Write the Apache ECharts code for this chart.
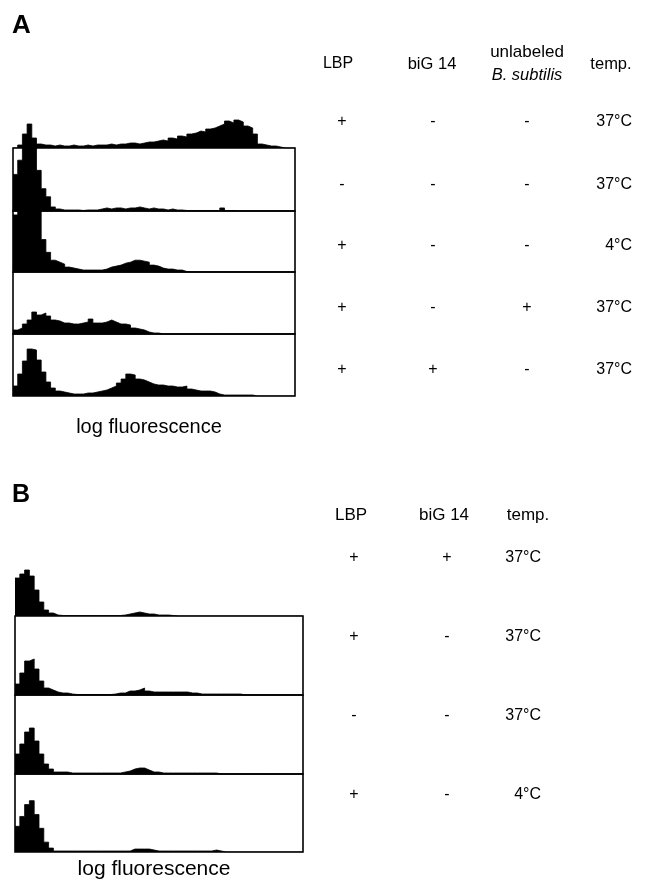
<!DOCTYPE html>
<html>
<head>
<meta charset="utf-8">
<script src="https://cdn.jsdelivr.net/npm/echarts@6/dist/echarts.min.js"></script>
<style>
html,body{margin:0;padding:0;background:#fff;}
#c{width:645px;height:879px;}
</style>
</head>
<body>
<div id="c"></div>
<script>
// ---------- DATA ----------
// Histogram counts (relative), 60 log-fluorescence bins per histogram
const histA1 = [0,3,14,24,10,4,3,3,2,3, 2,2,3,2,2,3,2,3,3,3, 4,3,4,4,5,5,4,5,6,6, 7,8,7,10,9,12,11,14,15,17, 16,19,20,22,24,27,25,28,26,22, 20,14,4,3,2,2,1,0,0,0];
const histA2 = [36,50,68,70,66,40,22,14,4,2, 1,1,1,1,0.5,1,1,1,2,3, 2,3,3,2,3,3,4,3,2,3, 2,2,1,2,1,1,0.5,0.5,0.5,0.5, 0.5,0.5,0.5,0.5,3,0.5,0.5,0,0,0, 0,0,0,0,0,0,0,0,0,0];
const histA3 = [58,66,68,68,66,62,33,20,12,10, 8,5,4,3,2,2,2,2,2,3, 5,6,7,9,10,12,12,11,10,7, 6,4,3,3,2,2,0.5,0,0,0, 0,0,0,0,0,0,0,0,0,0, 0,0,0,0,0,0,0,0,0,0];
const histA4 = [4,6,10,14,22,19,21,18,14,13, 11,11,10,10,11,12,15,11,11,12, 14,12,10,10,9,6,5,4,2,1, 1,0,0,0,0,0,0,0,0,0, 0,0,0,0,0,0,0,0,0,0, 0,0,0,0,0,0,0,0,0,0];
const histA5 = [10,22,35,47,46,36,24,14,8,5, 4,3,2,2,2,3,3,4,5,6, 8,10,13,17,22,21,17,16,14,12, 11,11,10,10,9,9,10,7,6,5, 5,5,4,2,1,1,1,1,1,1, 1,0,0,0,0,0,0,0,0,0];

const histB1 = [38,42,46,40,26,14,6,3,1,0.5, 0.5,0.5,0.5,0.5,0.5,0.5,0.5,0.5,0.5,0.5, 0.5,0.5,1,2,3,4,3,2,2,1, 1,1,0.5,0,0,0,0,0,0,0, 0,0,0,0,0,0,0,0,0,0, 0,0,0,0,0,0,0,0,0,0];
const histB2 = [11,22,34,36,26,14,7,5,3,2, 2,1,0.5,0.5,0.5,0.5,0.5,0.5,0.5,0.5, 1,2,2,4,4,5,7,4,3,3, 3,3,3,3,3,3,2,2,1,1, 1,1,1,1,1,1,1,0,0,0, 0,0,0,0,0,0,0,0,0,0];
const histB3 = [20,30,42,46,33,20,10,5,2,2, 2,1,1,1,1,1,1,1,1,1, 1,1,2,3,5,6,6,4,2,2, 1,1,1,1,1,1,1,1,1,1, 1,1,0,0,0,0,0,0,0,0, 0,0,0,0,0,0,0,0,0,0];
const histB4 = [26,36,48,52,38,24,10,4,1,1, 1,1,1,1,1,1,1,1,1,1, 1,1,1,1,3,3,3,3,2,1, 1,1,1,1,1,1,1,1,1,1, 1,2,1,0,0,0,0,0,0,0, 0,0,0,0,0,0,0,0,0,0];

// Condition table
const headersA = ['LBP','biG 14','unlabeled|B. subtilis','temp.'];
const condA_LBP  = ['+','-','+','+','+'];
const condA_biG  = ['-','-','-','-','+'];
const condA_unl  = ['-','-','-','+','-'];
const condA_temp = ['37°C','37°C','4°C','37°C','37°C'];

const headersB = ['LBP','biG 14','temp.'];
const condB_LBP  = ['+','+','-','+'];
const condB_biG  = ['+','-','-','-'];
const condB_temp = ['37°C','37°C','37°C','4°C'];

const xAxisTitle = 'log fluorescence';
const panelLabels = ['A','B'];

// ---------- LAYOUT ----------
const FONT = '"Liberation Sans", Arial, Helvetica, sans-serif';
const A = {left:13, width:282, rows:[[86,62],[148,63],[211,61],[272,62],[334,62]], yMax:62};
const B = {left:15, width:288, rows:[[537,79],[616,79],[695,79],[774,78]], yMax:79};

const grids=[], xAxes=[], yAxes=[], series=[];
function addHist(panel, idx, data){
  const [top,h] = panel.rows[idx];
  const gi = grids.length;
  // bin edges: n bins -> n+1 edges; step 'end' draws each bin as a flat top
  const edges = data.map((_,i)=>i).concat([data.length]);
  const vals = data.concat([0]);
  grids.push({left:panel.left, top:top, width:panel.width, height:h,
    show: idx>0, borderColor:'#000', borderWidth:1.6, backgroundColor:'transparent', containLabel:false});
  xAxes.push({type:'category', gridIndex:gi, data:edges, show:false, boundaryGap:false});
  yAxes.push({type:'value', gridIndex:gi, min:0, max:panel.yMax, show:false});
  series.push({type:'line', xAxisIndex:gi, yAxisIndex:gi, data:vals, step:'end', symbol:'none',
    lineStyle:{color:'#000', width:0.8}, areaStyle:{color:'#000', opacity:1},
    silent:true, animation:false, z:1});
}
[histA1,histA2,histA3,histA4,histA5].forEach((d,i)=>addHist(A,i,d));
[histB1,histB2,histB3,histB4].forEach((d,i)=>addHist(B,i,d));

const graphics=[];
function txt(x,y,s,opt){
  opt=opt||{};
  graphics.push({type:'text', x:x, y:y, silent:true, z:10, style:{text:s, fill:'#000',
    font:(opt.style||'normal')+' '+(opt.weight||'normal')+' '+(opt.size||16)+'px '+FONT,
    align:opt.align||'center', verticalAlign:'middle'}});
}
// panel labels
txt(12,26,panelLabels[0],{size:26,weight:'bold',align:'left'});
txt(12,495,panelLabels[1],{size:25,weight:'bold',align:'left'});
// axis titles
txt(149,427,xAxisTitle,{size:20});
txt(154,869,xAxisTitle,{size:21});

// Panel A table
const colA = [342,433,527,632];
txt(338,64,headersA[0],{size:16});
txt(432,64,headersA[1],{size:16.5});
const un = headersA[2].split('|');
txt(527,52,un[0],{size:17});
txt(527,75,un[1],{size:16.5,style:'italic'});
txt(611,64,headersA[3],{size:16.5});
A.rows.forEach((r,i)=>{
  const y = r[0]+r[1]-26;
  txt(colA[0],y,condA_LBP[i],{size:16});
  txt(colA[1],y,condA_biG[i],{size:16});
  txt(colA[2],y,condA_unl[i],{size:16});
  txt(colA[3],y,condA_temp[i],{size:16,align:'right'});
});

// Panel B table
const colB = [354,447,541];
txt(351,515,headersB[0],{size:17});
txt(444,515,headersB[1],{size:17});
txt(528,515,headersB[2],{size:17});
B.rows.forEach((r,i)=>{
  const y = r[0]+21;
  txt(colB[0],y,condB_LBP[i],{size:16});
  txt(colB[1],y,condB_biG[i],{size:16});
  txt(colB[2],y,condB_temp[i],{size:16,align:'right'});
});

const chart = echarts.init(document.getElementById('c'), null, {renderer:'canvas'});
chart.setOption({
  animation:false,
  backgroundColor:'#fff',
  grid:grids, xAxis:xAxes, yAxis:yAxes, series:series,
  graphic:graphics
});
</script>
</body>
</html>
